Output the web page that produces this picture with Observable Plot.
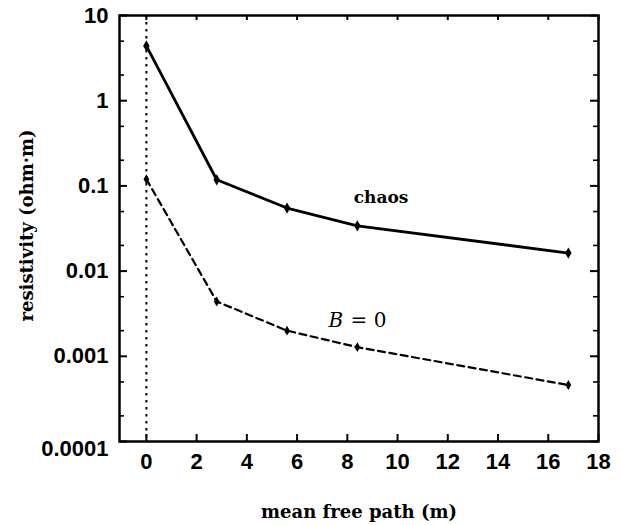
<!DOCTYPE html>
<html>
<head>
<meta charset="utf-8">
<script src="https://cdn.jsdelivr.net/npm/d3@7"></script>
<script src="https://cdn.jsdelivr.net/npm/@observablehq/plot@0.6"></script>
<style>
  body { margin: 0; background: #fff; }
</style>
</head>
<body>
<div id="chart"></div>
<script>
// Mean free path (m) at which the resistivity was computed
const meanFreePath = [0, 2.8, 5.6, 8.4, 16.8];
// Resistivity (ohm·m) with the chaotic field
const chaosResistivity = [4.4, 0.118, 0.055, 0.034, 0.0163];
// Resistivity (ohm·m) without magnetic field, B = 0
const zeroFieldResistivity = [0.12, 0.0044, 0.002, 0.00128, 0.00046];

// Axis ticks and labels
const xTicks = [0, 2, 4, 6, 8, 10, 12, 14, 16, 18];
const yMajorTicks = [1e-4, 1e-3, 1e-2, 1e-1, 1, 10];
const yMinorTicks = [2e-4, 5e-4, 2e-3, 5e-3, 2e-2, 5e-2, 0.2, 0.5, 2, 5];
const yTickLabels = ["0.0001", "0.001", "0.01", "0.1", "1", "10"];

const chaosRows = meanFreePath.map((x, i) => ({x, y: chaosResistivity[i]}));
const zeroRows = meanFreePath.map((x, i) => ({x, y: zeroFieldResistivity[i]}));
const yLabelRows = yMajorTicks.map((v, i) => ({v, label: yTickLabels[i]}));

const W = 620, H = 525;
const mL = 119, mR = 22, mT = 15, mB = 84;
const innerW = W - mL - mR, innerH = H - mT - mB;

const sans = "Liberation Sans, Arial, sans-serif";
const serif = "DejaVu Serif, serif";

const chart = Plot.plot({
  width: W,
  height: H,
  marginLeft: mL,
  marginRight: mR,
  marginTop: mT,
  marginBottom: mB,
  x: {domain: [-1.07, 18], axis: null},
  y: {type: "log", domain: [1e-4, 10], axis: null},
  marks: [
    // zero reference line
    Plot.ruleX([0], {stroke: "black", strokeWidth: 2, strokeDasharray: "2.5,4.5"}),

    // inward ticks: bottom and top
    Plot.tickX(xTicks, {x: d => d, insetTop: innerH - 7, strokeWidth: 2}),
    Plot.tickX(xTicks, {x: d => d, insetBottom: innerH - 5, strokeWidth: 2}),
    // inward ticks: left and right (major and minor)
    Plot.tickY(yMajorTicks, {y: d => d, insetRight: innerW - 8, strokeWidth: 2}),
    Plot.tickY(yMajorTicks, {y: d => d, insetLeft: innerW - 8, strokeWidth: 2}),
    Plot.tickY(yMinorTicks, {y: d => d, insetRight: innerW - 5, strokeWidth: 1.6}),
    Plot.tickY(yMinorTicks, {y: d => d, insetLeft: innerW - 5, strokeWidth: 1.6}),

    // series
    Plot.line(chaosRows, {x: "x", y: "y", stroke: "black", strokeWidth: 2.8}),
    Plot.line(zeroRows, {x: "x", y: "y", stroke: "black", strokeWidth: 2.2, strokeDasharray: "7,4.5"}),
    Plot.dot(chaosRows, {x: "x", y: "y", symbol: "diamond", r: 3.4, fill: "black"}),
    Plot.dot(zeroRows, {x: "x", y: "y", symbol: "diamond", r: 3, fill: "black"}),

    // curve labels
    Plot.text(["chaos"], {x: 9.34, y: 0.0731, text: d => d, fontFamily: serif, fontWeight: "bold", fontSize: 17}),
    Plot.text(["B"], {x: 7.25, y: 0.00259, text: d => d, textAnchor: "start",
      fontFamily: serif, fontStyle: "italic", fontSize: 20}),
    Plot.text(["= 0"], {x: 8.13, y: 0.00259, text: d => d, textAnchor: "start",
      fontFamily: serif, fontSize: 20}),

    // tick labels
    Plot.text(xTicks, {x: d => d, frameAnchor: "bottom", lineAnchor: "middle", dy: 20, text: d => String(d),
      fontFamily: sans, fontWeight: "bold", fontSize: 22}),
    Plot.text(yLabelRows.slice(1), {y: "v", text: "label", frameAnchor: "left", dx: -11, textAnchor: "end",
      fontFamily: sans, fontWeight: "bold", fontSize: 22}),
    Plot.text(yLabelRows.slice(0, 1), {y: "v", text: "label", frameAnchor: "left", dx: -11, dy: 7, textAnchor: "end",
      fontFamily: sans, fontWeight: "bold", fontSize: 22}),

    // axis titles
    Plot.text(["mean free path (m)"], {frameAnchor: "bottom", lineAnchor: "middle", dy: 71, text: d => d,
      fontFamily: serif, fontWeight: "bold", fontSize: 18}),
    Plot.text(["resistivity (ohm·m)"], {frameAnchor: "left", textAnchor: "middle", lineAnchor: "middle",
      dx: -92, dy: -3, rotate: -90, text: d => d,
      fontFamily: serif, fontWeight: "bold", fontSize: 18}),

    Plot.frame({stroke: "black", strokeWidth: 2.5})
  ]
});

document.getElementById("chart").appendChild(chart);
</script>
</body>
</html>
